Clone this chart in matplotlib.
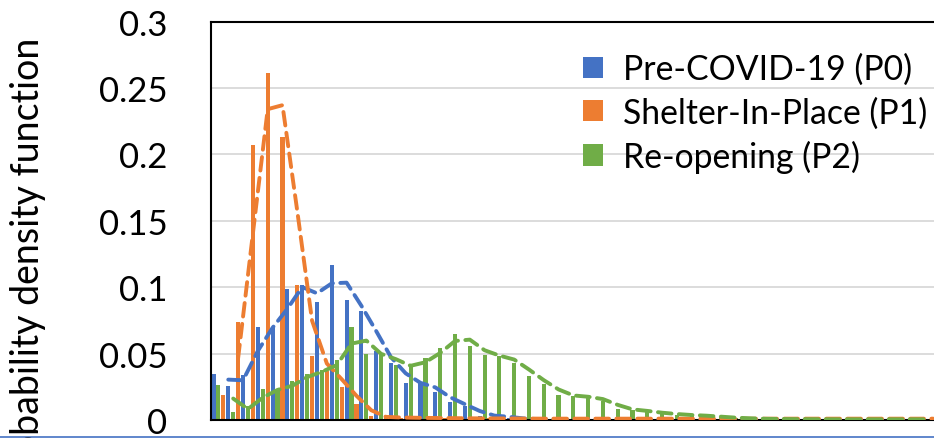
import numpy as np
import pandas as pd
import matplotlib
matplotlib.use("Agg")
import matplotlib.pyplot as plt
from matplotlib.lines import Line2D

plt.rcParams['font.family'] = ['Lato', 'DejaVu Sans']

# Probability density per bin for each period
pre_covid = [0.035, 0.0258, 0.034, 0.070, 0.069, 0.0985, 0.1017, 0.089, 0.1168, 0.090,
             0.082, 0.052, 0.0426, 0.0276, 0.0283, 0.0208, 0.0135, 0.0103, 0.0033, 0.0033,
             0.0015, 0.0008, 0.0005, 0.0003, 0.0002, 0.0001, 0.0001, 0.0, 0.0, 0.0,
             0.0, 0.0, 0.0, 0.0, 0.0, 0.0, 0.0, 0.0, 0.0, 0.0,
             0.0, 0.0, 0.0, 0.0, 0.0, 0.0, 0.0, 0.0, 0.0]
shelter = [0.019, 0.074, 0.207, 0.261, 0.213, 0.1015, 0.048, 0.037, 0.0245, 0.012,
           0.0027, 0.002, 0.0018, 0.0016, 0.0015, 0.0014, 0.0013, 0.0012, 0.0012, 0.0011,
           0.0011, 0.001, 0.001, 0.001, 0.001, 0.001, 0.001, 0.001, 0.001, 0.001,
           0.001, 0.001, 0.001, 0.001, 0.001, 0.001, 0.001, 0.001, 0.001, 0.001,
           0.001, 0.001, 0.001, 0.001, 0.001, 0.001, 0.001, 0.001, 0.001]
reopening = [0.0263, 0.006, 0.0105, 0.0233, 0.022, 0.0296, 0.035, 0.0376, 0.045, 0.070,
             0.0496, 0.050, 0.0416, 0.040, 0.047, 0.054, 0.065, 0.056, 0.049, 0.048,
             0.043, 0.033, 0.027, 0.019, 0.018, 0.017, 0.0145, 0.0083, 0.0077, 0.006,
             0.005, 0.004, 0.0035, 0.003, 0.002, 0.0015, 0.001, 0.0008, 0.0007, 0.0006,
             0.0006, 0.0005, 0.0005, 0.0005, 0.0005, 0.0005, 0.0005, 0.0005, 0.0005]

labels = ["Pre-COVID-19 (P0)", "Shelter-In-Place (P1)", "Re-opening (P2)"]
colors = ["#4472C4", "#ED7D31", "#70AD47"]
y_ticks = [0, 0.05, 0.1, 0.15, 0.2, 0.25, 0.3]
y_tick_labels = ["0", "0.05", "0.1", "0.15", "0.2", "0.25", "0.3"]

W, H = 934, 439
fig = plt.figure(figsize=(W / 100, H / 100), dpi=100)

cat_px = 14.79
x_lo, x_hi = -0.5, 52.0
ax_left, ax_bottom, ax_top = 211, 421, 22.5
ax = fig.add_axes([ax_left / W, (H - ax_bottom) / H,
                   (x_hi - x_lo) * cat_px / W, (ax_bottom - ax_top) / H])

idx = np.arange(len(pre_covid))
offsets = [-1 / 3, 1 / 3, 0.0]
series = [pre_covid, shelter, reopening]
fs_tick = 25
fs_leg = 24.3
fs_label = 27

bars = []
for vals, off, col, lab in zip(series, offsets, colors, labels):
    b = ax.bar(idx + off, vals, width=0.28, color=col, label=lab, zorder=2)
    bars.append(b)

# Two-period moving-average trendlines
for vals, off, col in zip(series, offsets, colors):
    ma = pd.Series(vals).rolling(2).mean()
    ax.plot(idx[1:] + off, ma.values[1:], color=col, lw=2.8,
            linestyle=(0, (3.5, 1.9)), dash_capstyle='round', zorder=3)

ax.set_xlim(x_lo, x_hi)
ax.set_ylim(0, 0.3)
ax.set_yticks(y_ticks)
ax.set_yticklabels(y_tick_labels, fontsize=fs_tick)
ax.set_xticks([])
ax.tick_params(axis='y', length=0, pad=31.5)
ax.yaxis.grid(True, color='#D9D9D9', lw=1.3, zorder=0)
ax.set_axisbelow(True)
for side in ['left', 'top', 'bottom']:
    ax.spines[side].set_color('black')
    ax.spines[side].set_linewidth(1.5)
ax.spines['right'].set_visible(False)

fig.text(46 / W, 1 - 38 / H, "probability density function", rotation=90,
         ha='right', va='top', fontsize=fs_label)

ax.legend(handles=bars, labels=labels, loc='upper left',
          bbox_to_anchor=(583 / W, 1 - 54 / H), bbox_transform=fig.transFigure,
          frameon=False, fontsize=fs_leg, borderpad=0, borderaxespad=0,
          handlelength=0.59, handleheight=0.59, handletextpad=0.59,
          labelspacing=0.33)

fig.add_artist(Line2D([0, 1], [(H - 437.5) / H] * 2, transform=fig.transFigure,
                      color='#4472C4', lw=1.2))

fig.savefig("out.png", dpi=100)
